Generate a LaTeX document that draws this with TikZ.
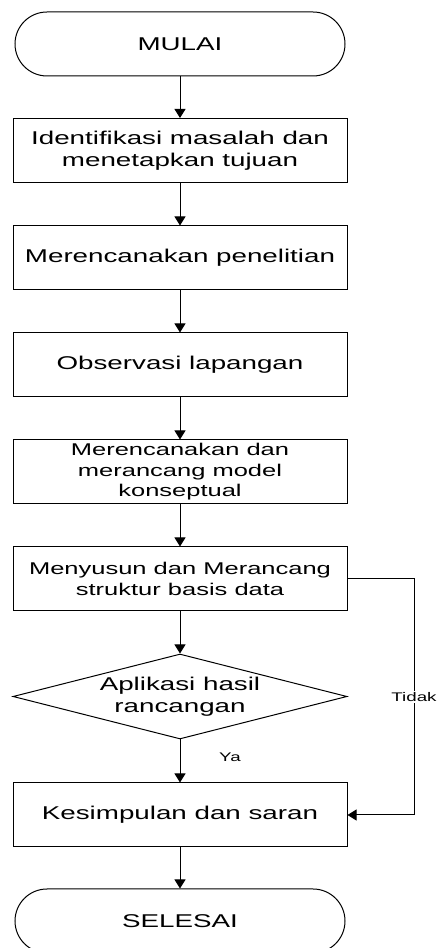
\documentclass[tikz,border=0pt]{standalone}
\usepackage{fontspec}
\setmainfont{Liberation Sans}[FakeStretch=1.5]
\usetikzlibrary{arrows.meta,shapes.geometric,shapes.misc}

\tikzset{
	langkah/.style={draw, line width=1pt, minimum width=334pt, minimum height=64pt,
		inner sep=2pt, align=center, font=\fontsize{18.5}{22}\selectfont},
	langkahkecil/.style={langkah, font=\fontsize{17}{20.5}\selectfont},
	terminal/.style={langkah, rounded rectangle},
	keputusan/.style={langkah, diamond, aspect=3.93, inner sep=0pt, minimum height=85pt},
	panah/.style={line width=1pt, -{Triangle[width=11pt,length=9pt]}},
	ket/.style={font=\fontsize{12.5}{14}\selectfont, fill=white, inner sep=1pt}
}

\begin{document}
\begin{tikzpicture}[x=1pt,y=1pt]
	\useasboundingbox (0,0) rectangle (438,948);
	\node[terminal] (mulai) at (180,904) {MULAI};
	\node[langkah] (identifikasi) at (180,797.5) {Identifikasi masalah dan\\menetapkan tujuan};
	\node[langkah] (rencana) at (180,690) {Merencanakan penelitian};
	\node[langkah] (observasi) at (180,583) {Observasi lapangan};
	\node[langkahkecil] (model) at (180,476) {Merencanakan dan\\merancang model\\konseptual};
	\node[langkahkecil] (basisdata) at (180,369) {Menyusun dan Merancang\\struktur basis data};
	\node[keputusan] (aplikasi) at (180,251.5) {Aplikasi hasil\\rancangan};
	\node[langkah] (simpulan) at (180,133) {Kesimpulan dan saran};
	\node[terminal] (selesai) at (180,27) {SELESAI};
	\foreach \a/\b in {mulai/identifikasi, identifikasi/rencana, rencana/observasi,
		observasi/model, model/basisdata, basisdata/aplikasi, aplikasi/simpulan, simpulan/selesai}
		\draw[panah] (\a) -- (\b);
	\node[ket] (ya) at (230,191) {Ya};
	\coordinate (belokatas) at (414,369);
	\coordinate (belokbawah) at (414,133);
	\draw[panah] (basisdata.east) -- (belokatas) -- node[ket] (tidak) {Tidak} (belokbawah) -- (simpulan.east);
\end{tikzpicture}
\end{document}
